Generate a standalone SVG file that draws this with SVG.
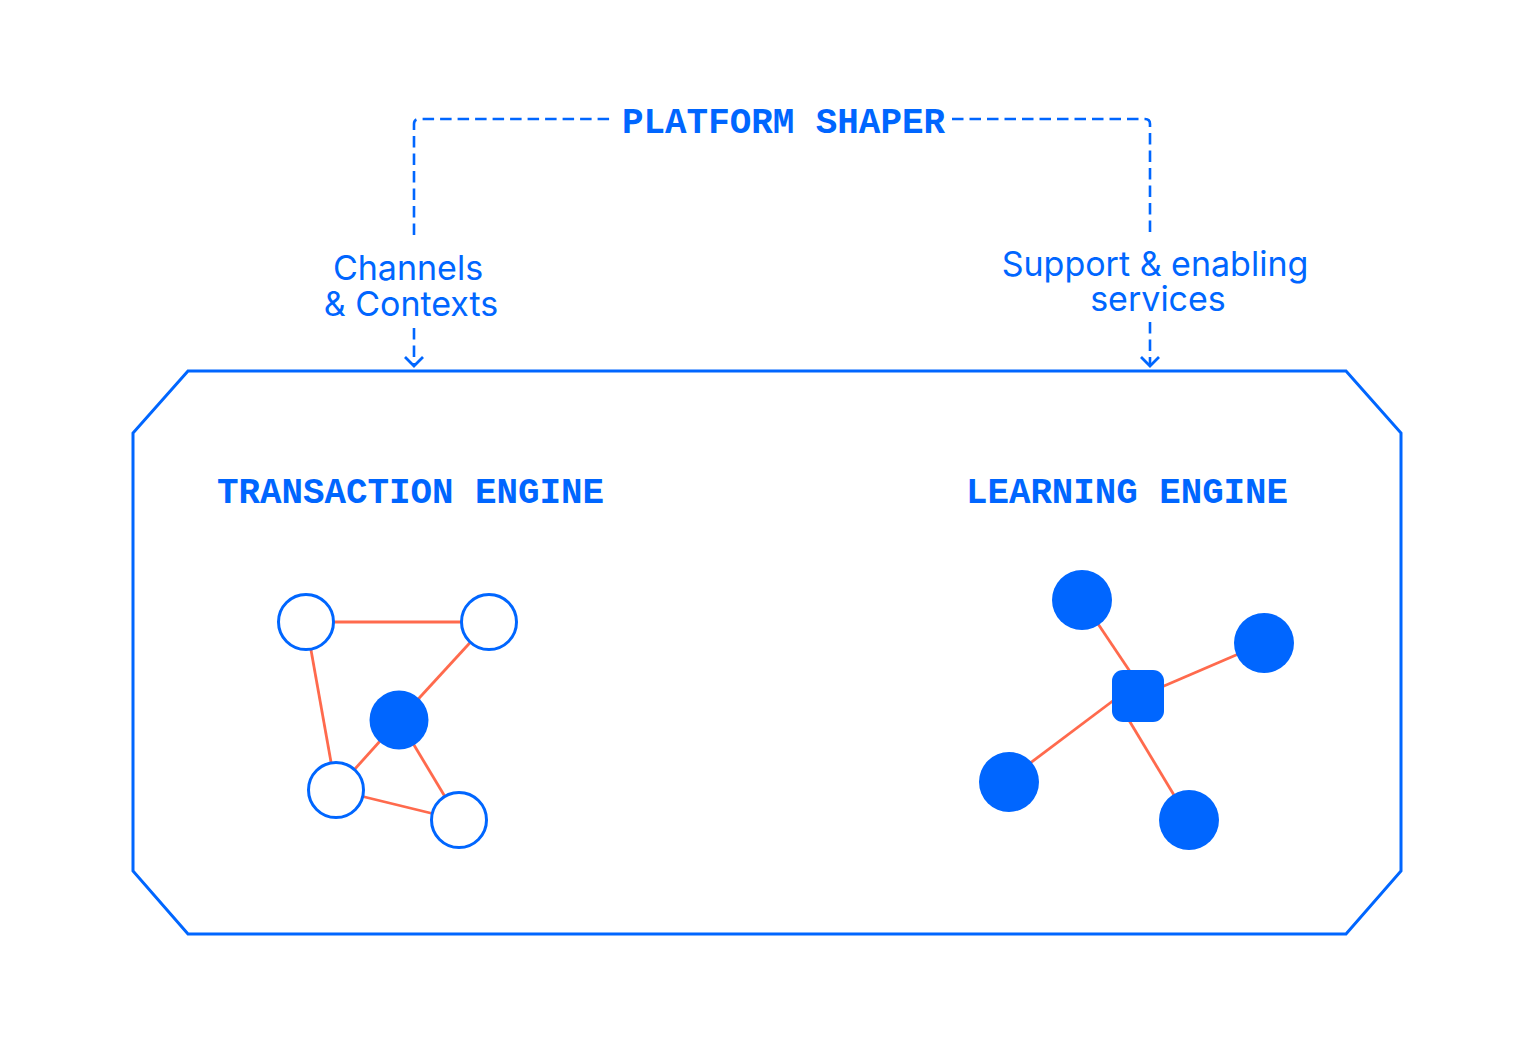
<svg xmlns="http://www.w3.org/2000/svg" width="1535" height="1064" viewBox="0 0 1535 1064">
<style>
.mono{font-family:"Liberation Mono","DejaVu Sans Mono",monospace;font-weight:bold;font-size:37px;fill:#0066FF}
.sans{font-family:Inter,"Noto Sans",sans-serif;font-size:34px;fill:#0066FF;text-anchor:middle}
.dash{fill:none;stroke:#0066FF;stroke-width:2.6;stroke-dasharray:11.5 6}
.arrow{fill:none;stroke:#0066FF;stroke-width:2.8}
.edge{stroke:#FF6A4D;stroke-width:2.8;fill:none}
.ring{fill:#fff;stroke:#0066FF;stroke-width:3}
.solid{fill:#0066FF}
</style>
<rect width="1535" height="1064" fill="#fff"/>
<g id="container">
<polygon points="188,371 1346,371 1401,433 1401,871 1346,934 188,934 133,871 133,433" fill="none" stroke="#0066FF" stroke-width="3"/>
</g>
<g id="connectors">
<path class="dash" d="M414,235 V124 Q414,119 419,119 H612"/>
<path class="dash" d="M952,119 H1145 Q1150,119 1150,124 V235"/>
<path class="dash" d="M414,328 V365"/>
<path class="dash" d="M1150,322 V365"/>
<polyline class="arrow" points="405,357 414,366 423,357"/>
<polyline class="arrow" points="1141,357 1150,366 1159,357"/>
<line class="edge" x1="306" y1="622" x2="489" y2="622"/>
<line class="edge" x1="306" y1="622" x2="336" y2="790"/>
<line class="edge" x1="489" y1="622" x2="399" y2="720"/>
<line class="edge" x1="399" y1="720" x2="336" y2="790"/>
<line class="edge" x1="399" y1="720" x2="459" y2="820"/>
<line class="edge" x1="336" y1="790" x2="459" y2="820"/>
<line class="edge" x1="1082" y1="600" x2="1133" y2="676"/>
<line class="edge" x1="1264" y1="643" x2="1150" y2="692"/>
<line class="edge" x1="1009" y1="779" x2="1130" y2="688"/>
<line class="edge" x1="1189" y1="820" x2="1124" y2="712"/>
</g>
<g id="platform-shaper"><text class="mono" x="622" y="133" textLength="323" lengthAdjust="spacingAndGlyphs">PLATFORM SHAPER</text></g>
<g id="channels-contexts"><text class="sans" x="408" y="280">Channels<tspan x="411" dy="36">&amp; Contexts</tspan></text></g>
<g id="support-services"><text class="sans" x="1155" y="276">Support &amp; enabling<tspan x="1158" dy="35">services</tspan></text></g>
<g id="transaction-engine">
<text class="mono" x="217" y="503" textLength="387" lengthAdjust="spacingAndGlyphs">TRANSACTION ENGINE</text>
<circle class="ring" cx="306" cy="622" r="27.5"/>
<circle class="ring" cx="489" cy="622" r="27.5"/>
<circle class="solid" cx="399" cy="720" r="29.5"/>
<circle class="ring" cx="336" cy="790" r="27.5"/>
<circle class="ring" cx="459" cy="820" r="27.5"/>
</g>
<g id="learning-engine">
<text class="mono" x="966" y="503" textLength="322" lengthAdjust="spacingAndGlyphs">LEARNING ENGINE</text>
<circle class="solid" cx="1082" cy="600" r="30"/>
<circle class="solid" cx="1264" cy="643" r="30"/>
<circle class="solid" cx="1009" cy="782" r="30"/>
<circle class="solid" cx="1189" cy="820" r="30"/>
<rect class="solid" x="1112" y="670" width="52" height="52" rx="11"/>
</g>
</svg>
